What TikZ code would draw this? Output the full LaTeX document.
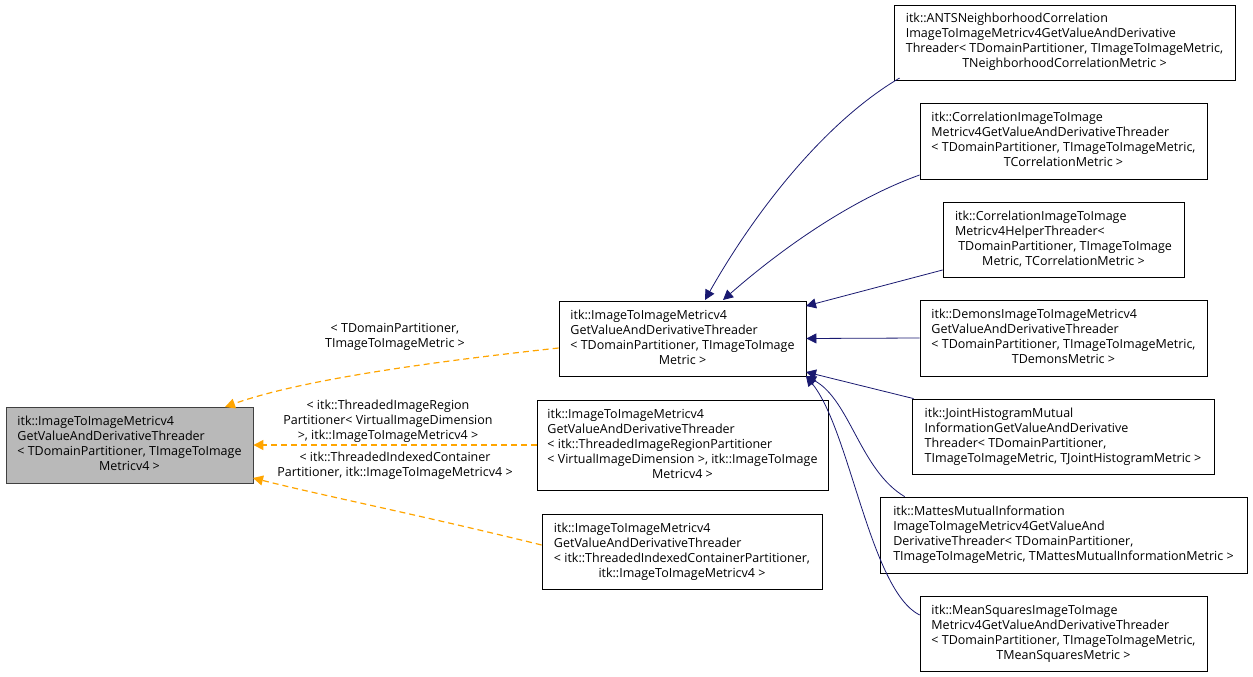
\documentclass[tikz,border=0pt]{standalone}
\usepackage{fontspec}
\setmainfont{Open Sans}
\usetikzlibrary{arrows.meta,positioning}
\definecolor{inhorange}{RGB}{255,165,0}
\definecolor{dernavy}{RGB}{25,25,112}
\newcommand\cls[2]{\begin{tabular}{@{}l@{}}#1\\\multicolumn{1}{@{}c@{}}{#2}\end{tabular}}
\begin{document}
\begin{tikzpicture}[x=1pt,y=-1pt,
        every node/.style={font=\fontsize{12.5}{15}\selectfont},
        box/.style={draw, thick, fill=white, inner sep=0pt},
        lbl/.style={align=center, inner sep=0pt, font=\fontsize{12.5}{15}\selectfont},
        inh/.style={draw=inhorange, very thick, dash pattern=on 6pt off 4pt, -{Triangle[length=10pt,width=10pt]}},
        der/.style={draw=dernavy, thick, -{Triangle[length=10pt,width=10pt]}}
    ]
    \renewcommand\arraystretch{1.0}
    \useasboundingbox (0,0) rectangle (1253,677);

    % Nodes
    \node (base)[box, draw=black!75, fill=gray!55, minimum width=247pt, minimum height=76pt] at (129.5,445)
        {\cls{itk::ImageToImageMetricv4\\GetValueAndDerivativeThreader\\< TDomainPartitioner, TImageToImage}{Metricv4 >}};
    \node (gen)[box, minimum width=247pt, minimum height=75pt] at (682.5,338.5)
        {\cls{itk::ImageToImageMetricv4\\GetValueAndDerivativeThreader\\< TDomainPartitioner, TImageToImage}{Metric >}};
    \node (region)[box, minimum width=291pt, minimum height=90pt] at (682.5,445)
        {\cls{itk::ImageToImageMetricv4\\GetValueAndDerivativeThreader\\< itk::ThreadedImageRegionPartitioner\\< VirtualImageDimension >, itk::ImageToImage}{Metricv4 >}};
    \node (indexed)[box, minimum width=280pt, minimum height=75pt] at (682,551.5)
        {\cls{itk::ImageToImageMetricv4\\GetValueAndDerivativeThreader\\< itk::ThreadedIndexedContainerPartitioner,}{itk::ImageToImageMetricv4 >}};

    \node (ants)[box, minimum width=341pt, minimum height=75pt] at (1064.5,42.5)
        {\cls{itk::ANTSNeighborhoodCorrelation\\ImageToImageMetricv4GetValueAndDerivative\\Threader< TDomainPartitioner, TImageToImageMetric,}{TNeighborhoodCorrelationMetric >}};
    \node (corr)[box, minimum width=287pt, minimum height=76pt] at (1063.5,141)
        {\cls{itk::CorrelationImageToImage\\Metricv4GetValueAndDerivativeThreader\\< TDomainPartitioner, TImageToImageMetric,}{TCorrelationMetric >}};
    \node (helper)[box, minimum width=241pt, minimum height=75pt] at (1063.5,239.5)
        {\cls{itk::CorrelationImageToImage\\Metricv4HelperThreader<\\\ TDomainPartitioner, TImageToImage}{Metric, TCorrelationMetric >}};
    \node (demons)[box, minimum width=287pt, minimum height=76pt] at (1063.5,338)
        {\cls{itk::DemonsImageToImageMetricv4\\GetValueAndDerivativeThreader\\< TDomainPartitioner, TImageToImageMetric,}{TDemonsMetric >}};
    \node (joint)[box, minimum width=302pt, minimum height=75pt] at (1063,436.5)
        {\cls{itk::JointHistogramMutual\\InformationGetValueAndDerivative\\Threader< TDomainPartitioner,}{TImageToImageMetric, TJointHistogramMetric >}};
    \node (mattes)[box, minimum width=367pt, minimum height=76pt] at (1063.5,535)
        {\cls{itk::MattesMutualInformation\\ImageToImageMetricv4GetValueAnd\\DerivativeThreader< TDomainPartitioner,}{TImageToImageMetric, TMattesMutualInformationMetric >}};
    \node (meansq)[box, minimum width=287pt, minimum height=75pt] at (1063.5,633.5)
        {\cls{itk::MeanSquaresImageToImage\\Metricv4GetValueAndDerivativeThreader\\< TDomainPartitioner, TImageToImageMetric,}{TMeanSquaresMetric >}};

    % Edges
    \path[inh] (gen.west |- 0,348) .. controls (430,362) and (300,380) .. (225,407);
    \path[inh] (region.west) -- (base.east);
    \path[inh] (indexed.west |- 0,545) .. controls (420,515) and (320,495) .. (253,478);

    \node[lbl] at (395,337) {< TDomainPartitioner,\\TImageToImageMetric >};
    \node[lbl] at (388,421) {< itk::ThreadedImageRegion\\Partitioner< VirtualImageDimension\\>, itk::ImageToImageMetricv4 >};
    \node[lbl] at (395,466) {< itk::ThreadedIndexedContainer\\Partitioner, itk::ImageToImageMetricv4 >};

    \path[der] (ants.south west |- 0,78) ++(6,0) .. controls (820,125) and (750,220) .. (705,300);
    \path[der] (corr.west |- 0,175) .. controls (850,200) and (780,250) .. (723,300);
    \path[der] (helper.west |- 0,270) -- (806,306);
    \path[der] (demons.west) -- (gen.east);
    \path[der] (joint.north west) ++(2,0) -- (806,372);
    \path[der] (mattes.north west) ++(25,0) .. controls (860,470) and (850,400) .. (806,376);
    \path[der] (meansq.west |- 0,615) .. controls (870,590) and (850,430) .. (806,376);
\end{tikzpicture}
\end{document}
